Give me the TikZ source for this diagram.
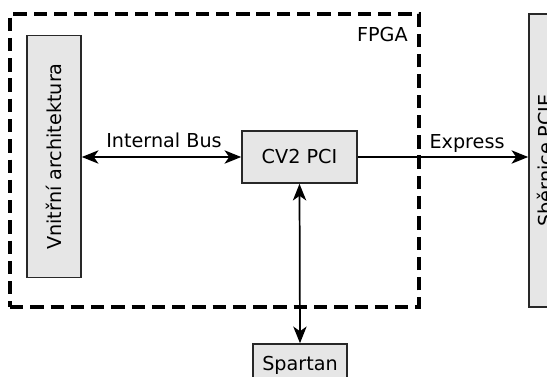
\documentclass[tikz,border=0pt]{standalone}
\usepackage{fontspec}
\setmainfont{DejaVu Sans}
\usetikzlibrary{positioning,arrows.meta}
\definecolor{boxfill}{RGB}{230,230,230}
\definecolor{boxline}{RGB}{40,40,40}
\tikzset{
block/.style={
  draw=boxline,
  fill=boxfill,
  rectangle,
  line width=1.2pt,
  inner sep=2pt,
  font=\fontsize{14.4}{17}\selectfont
  },
fpgabox/.style={draw, dash pattern=on 10pt off 5.2pt, line width=2.4pt},
line/.style={draw, line width=1.3pt, >={Stealth[length=12.5pt,width=10pt,inset=3.5pt]}},
lbl/.style={font=\fontsize{14.4}{17}\selectfont, inner sep=0pt}
}

\begin{document}
\begin{tikzpicture}[x=0.75pt,y=0.75pt,yscale=-1,xscale=1]
\useasboundingbox (0,0) rectangle (547,376);

% FPGA frame
\node[fpgabox, minimum width=306.75pt, minimum height=219.75pt] (fpga) at (214.5,160.5) {};
\node[lbl, anchor=base east] (fpgalbl) at (408,41.7) {FPGA};

\node[block, rotate=90, minimum width=181.5pt, minimum height=40.5pt] (arch) at (54,156.5) {Vnitřní architektura};
\node[block, minimum width=86.25pt, minimum height=39pt] (cv2) at (299.5,157) {CV2 PCI};
\node[block, minimum width=70.5pt, minimum height=31.5pt] (spartan) at (300,365) {Spartan};
\node[block, rotate=90, minimum width=219.75pt, minimum height=24pt] (pcie) at (545,160.5) {Sběrnice PCIE};

\draw[line, <->] (arch.south |- cv2.west) -- (cv2.west);
\draw[line, ->] (cv2.east) -- (cv2.east -| pcie.north);
\draw[line, <->] (cv2.south) -- (spartan.north);

\node[lbl, anchor=base] (buslbl) at (164,147) {Internal Bus};
\node[lbl, anchor=base] (explbl) at (467,148) {Express};

\end{tikzpicture}
\end{document}
